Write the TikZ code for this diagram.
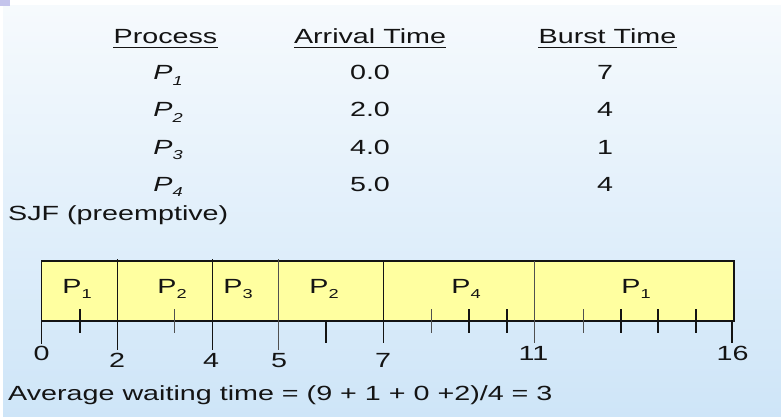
\documentclass[tikz,border=0pt]{standalone}
\usepackage{fontspec}
\setmainfont[FakeStretch=1.4]{Liberation Sans}
\usepackage{tikz}
\definecolor{bgtop}{RGB}{246,250,253}
\definecolor{bgbot}{RGB}{206,229,248}
\definecolor{corner}{RGB}{196,196,236}
\definecolor{barfill}{RGB}{255,255,160}
\definecolor{ink}{RGB}{20,20,20}
\definecolor{greyline}{RGB}{80,80,80}
\newcommand{\lowsub}[1]{\raisebox{-5.5pt}{\fontsize{13}{13}\selectfont #1}}
\tikzset{
  txt/.style={inner sep=0pt, anchor=base, text=ink, font=\fontsize{20.5}{24}\selectfont},
  bar/.style={draw=ink, line width=1.2pt, fill=barfill},
  mark thick/.style={draw=ink, line width=1.5pt},
  mark thin/.style={draw=greyline, line width=0.9pt}
}

\begin{document}
\begin{tikzpicture}[x=1pt, y=-1pt]
  \useasboundingbox (0,0) rectangle (781,417);
  % background
  \fill[white] (0,0) rectangle (781,417);
  \shade[top color=bgtop, bottom color=bgbot] (3,6) rectangle (781,417);
  \fill[corner] (0,0) rectangle (10,6);

  % table
  \node[txt] (PR) at (165.5,44) {Process};
  \node[txt] (AT) at (370,44) {Arrival Time};
  \node[txt] (BT) at (607.5,44) {Burst Time};
  \foreach \h in {PR, AT, BT}
    \draw[ink, line width=1.3pt] ([yshift=-3.5pt]\h.base west) -- ([yshift=-3.5pt]\h.base east);
  \foreach \i/\a/\b in {1/0.0/7, 2/2.0/4, 3/4.0/1, 4/5.0/4} {
    \node[txt] (P\i) at (168,43+37*\i) {\itshape P\lowsub{\i}};
    \node[txt] (A\i) at (370,43+37*\i) {\a};
    \node[txt] (B\i) at (605,43+37*\i) {\b};
  }

  \node[txt, anchor=base west] (SJF) at (8,220) {SJF (preemptive)};

  % gantt bar
  \draw[bar] (41.7,261) rectangle (734,321);
  \node[txt] (G1) at (77,293) {P\lowsub{1}};
  \node[txt] (G2) at (172,293) {P\lowsub{2}};
  \node[txt] (G3) at (238,293) {P\lowsub{3}};
  \node[txt] (G4) at (324,293) {P\lowsub{2}};
  \node[txt] (G5) at (466,293) {P\lowsub{4}};
  \node[txt] (G6) at (636,293) {P\lowsub{1}};

  % time boundaries
  \foreach \x/\t/\b/\s in {41.7/261/344/mark thick, 117.7/259/350/mark thick,
      212.7/259/350/mark thick, 278.7/259/350/mark thin, 383.3/261/343/mark thick,
      534.3/261/343/mark thin, 732/321/343/mark thick}
    \draw[\s] (\x,\t) -- (\x,\b);
  % unit ticks
  \foreach \x/\s in {80/mark thick, 174/mark thin, 431/mark thin, 469/mark thick,
      507/mark thick, 583/mark thin, 621/mark thick, 658/mark thick, 696/mark thick}
    \draw[\s] (\x,309) -- (\x,333);
  \draw[mark thick] (326,321) -- (326,343);

  % time labels
  \foreach \x/\n/\y in {41.5/0/360, 117/2/367, 211/4/367, 279/5/367,
      383/7/367, 533.5/11/360, 732.5/16/360}
    \node[txt] (T\n) at (\x,\y) {\n};

  \node[txt, anchor=base west] (AVG) at (8,400) {Average waiting time = (9 + 1 + 0 +2)/4 = 3};
\end{tikzpicture}
\end{document}
